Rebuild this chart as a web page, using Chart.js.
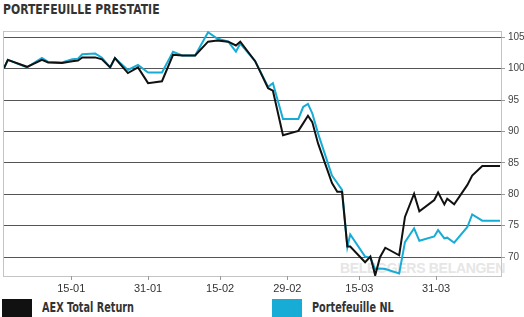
<!DOCTYPE html>
<html>
<head>
<meta charset="utf-8">
<script src="https://cdn.jsdelivr.net/npm/chart.js@4.4.1/dist/chart.umd.min.js"></script>
<style>
  body { margin: 0; background: #fff; }
  #wrap { position: relative; width: 524px; height: 317px; overflow: hidden; }
  .cond { font-family: "Liberation Sans Narrow", "Arial Narrow", "DejaVu Sans Condensed", sans-serif; font-weight: bold; transform-origin: 0 0; }
  #title { position: absolute; left: 3px; top: 1px; font-size: 14px; color: #333; white-space: nowrap; transform: scaleX(0.86); }
  #mark { position: absolute; left: 340px; top: 260px; font-size: 14px; color: #e6e6e6; font-family: "Liberation Sans", Arial, sans-serif; font-weight: bold; white-space: nowrap; letter-spacing: -0.3px; }
  #chart { position: absolute; left: 0; top: 0; }
  #legend { position: absolute; left: 0; top: 299px; width: 524px; height: 18px; }
  .item { position: absolute; top: 0; height: 18px; }
  .box { position: absolute; left: 0; top: 0; width: 30px; height: 18px; }
  .lbl { position: absolute; left: 40px; top: 0; font-size: 14px; line-height: 16px; color: #333; white-space: nowrap; transform: scaleX(0.77); }
</style>
</head>
<body>
<div id="wrap">
  <div id="title" class="cond">PORTEFEUILLE PRESTATIE</div>
  <div id="mark">BELEGGERS BELANGEN</div>
  <canvas id="chart" width="524" height="298" style="width:524px;height:298px"></canvas>
  <div id="legend"></div>
</div>
<script>
// days since 1 jan 2016
const days = [0, 0.8, 4.8, 7.9, 9.2, 12.1, 14.2, 15.4, 16.3, 19.0, 20.4, 22.1, 23.1, 25.8, 27.9,
  30.0, 32.9, 35.2, 37.1, 39.8, 42.5, 44.4, 46.7, 48.3, 49.2, 52.3, 55.0, 56.0, 58.1, 61.3,
  62.3, 63.3, 64.2, 65.4, 68.3, 69.4, 70.4, 71.5, 72.1, 75.2, 76.3, 77.3, 78.3, 79.4, 82.3,
  83.5, 85.4, 86.5, 89.6, 90.4, 91.7, 92.3, 93.75, 96.5, 97.5, 99.6, 103.3];
const aex = [100.1, 101.4, 100.3, 101.4, 101.0, 100.9, 101.2, 101.3, 101.8, 101.8, 101.5, 100.2, 101.7, 99.3, 100.2,
  97.7, 98.0, 102.2, 102.1, 102.1, 104.3, 104.5, 104.3, 103.7, 104.3, 101.2, 96.9, 96.5, 89.4, 90.1,
  91.3, 92.5, 91.5, 88.1, 81.8, 80.4, 80.4, 71.7, 71.7, 69.2, 70.1, 67.1, 70.0, 71.5, 70.3,
  76.4, 80.1, 77.3, 79.1, 80.3, 78.4, 79.3, 78.4, 81.5, 83.0, 84.5, 84.5];
const portNL = [100.1, 101.4, 100.2, 101.7, 101.1, 101.0, 101.5, 101.6, 102.3, 102.4, 101.75, 100.2, 101.7, 99.8, 100.6,
  99.4, 99.4, 102.7, 102.1, 102.1, 105.8, 104.8, 104.3, 102.7, 104.0, 101.2, 97.1, 97.7, 92.0, 92.0,
  93.9, 94.4, 92.9, 89.7, 83.0, 81.8, 80.7, 71.6, 73.6, 70.1, 69.9, 68.1, 68.2, 68.1, 67.4,
  72.4, 74.6, 72.6, 73.3, 74.3, 73.0, 73.1, 72.3, 74.8, 76.8, 75.8, 75.8];

const xTickDays = [14, 30, 45, 59, 74, 90];
const xTickLabels = ['15-01', '31-01', '15-02', '29-02', '15-03', '31-03'];
const yTicks = [70, 75, 80, 85, 90, 95, 100, 105];

const seriesNames = ['AEX Total Return', 'Portefeuille NL'];
const seriesColors = ['#111111', '#16acd6'];

const boxPlugin = {
  id: 'box',
  beforeDraw(chart) {
    const a = chart.chartArea, c = chart.ctx;
    c.save();
    c.strokeStyle = '#c4c4c4';
    c.lineWidth = 1;
    c.strokeRect(a.left - 0.5, a.top + 0.5, a.right - a.left + 1, a.bottom - a.top);
    c.restore();
  }
};

const chart = new Chart(document.getElementById('chart'), {
  type: 'line',
  data: {
    datasets: [
      { label: seriesNames[0], data: days.map((d, i) => ({ x: d, y: aex[i] })),
        borderColor: seriesColors[0], backgroundColor: seriesColors[0], borderWidth: 2, pointRadius: 0, tension: 0 },
      { label: seriesNames[1], data: days.map((d, i) => ({ x: d, y: portNL[i] })),
        borderColor: seriesColors[1], backgroundColor: seriesColors[1], borderWidth: 2, pointRadius: 0, tension: 0 }
    ]
  },
  options: {
    responsive: false,
    animation: false,
    layout: { padding: { left: 4, top: 31, right: 0, bottom: 0 } },
    plugins: { legend: { display: false }, tooltip: { enabled: false } },
    scales: {
      x: {
        type: 'linear', min: 0, max: 103.5,
        afterBuildTicks: s => { s.ticks = xTickDays.map(v => ({ value: v })); },
        afterFit: s => { s.height = 22; },
        grid: { display: true, drawOnChartArea: false, drawTicks: true, tickLength: 4, color: '#999' },
        border: { display: false },
        ticks: {
          autoSkip: false, maxRotation: 0, padding: 2, color: '#333',
          font: { family: 'Liberation Sans, Arial, sans-serif', size: 11 },
          callback: v => xTickLabels[xTickDays.indexOf(v)]
        }
      },
      y: {
        position: 'right', min: 67, max: 106,
        afterBuildTicks: s => { s.ticks = yTicks.map(v => ({ value: v })); },
        afterFit: s => { s.width = 23; },
        grid: { color: '#555', borderDash: [1, 2], tickLength: 4, tickColor: '#999', tickBorderDash: [] },
        border: { display: false },
        ticks: { padding: 3, color: '#444', font: { family: 'Liberation Sans, Arial, sans-serif', size: 10 } }
      }
    }
  },
  plugins: [boxPlugin]
});

// legend built from the datasets
const legend = document.getElementById('legend');
const lefts = [2, 272];
chart.data.datasets.forEach((ds, i) => {
  const it = document.createElement('div');
  it.className = 'item';
  it.style.left = lefts[i] + 'px';
  it.innerHTML = '<div class="box" style="background:' + ds.borderColor + '"></div><div class="lbl cond">' + ds.label + '</div>';
  legend.appendChild(it);
});
</script>
</body>
</html>
